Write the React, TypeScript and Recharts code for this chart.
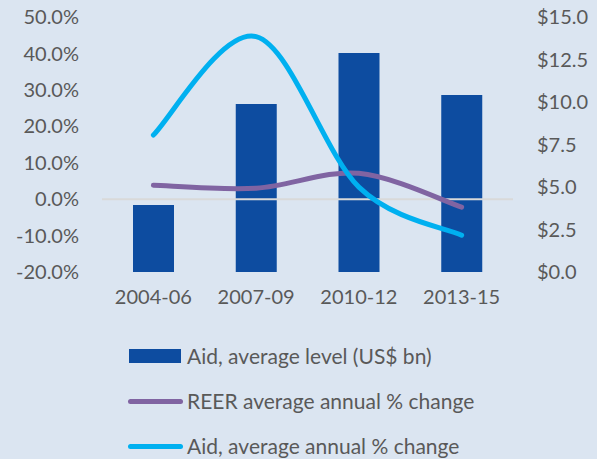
import React from "react";
import {
  ComposedChart,
  Bar,
  Line,
  XAxis,
  YAxis,
  ReferenceLine,
} from "recharts";

const periods = ["2004-06", "2007-09", "2010-12", "2013-15"];
const aidLevel = [3.94, 9.88, 12.88, 10.41]; // US$ bn, right axis
const reerChange = [3.8, 3.0, 7.1, -2.2]; // %, left axis
const aidChange = [17.6, 44.6, 3.3, -9.9]; // %, left axis

const pctTicks = [-20, -10, 0, 10, 20, 30, 40, 50];
const usdTicks = [0, 2.5, 5, 7.5, 10, 12.5, 15];

const BG = "#dbe5f1";
const TEXT = "#595959";
const BAR = "#0d4ca0";
const PURPLE = "#8064a2";
const CYAN = "#00b0f0";
const FONT = "Lato, 'Open Sans', sans-serif";

// Excel-style smoothed line (Catmull-Rom like, tension 1/6)
function excelSmooth(context: any) {
  let pts: number[][] = [];
  return {
    areaStart() {},
    areaEnd() {},
    lineStart() {
      pts = [];
    },
    point(x: number, y: number) {
      pts.push([+x, +y]);
    },
    lineEnd() {
      const n = pts.length;
      if (!n) return;
      context.moveTo(pts[0][0], pts[0][1]);
      for (let i = 0; i < n - 1; i++) {
        const p0 = pts[i - 1] || pts[i];
        const p1 = pts[i];
        const p2 = pts[i + 1];
        const p3 = pts[i + 2] || p2;
        context.bezierCurveTo(
          p1[0] + (p2[0] - p0[0]) / 6,
          p1[1] + (p2[1] - p0[1]) / 6,
          p2[0] - (p3[0] - p1[0]) / 6,
          p2[1] - (p3[1] - p1[1]) / 6,
          p2[0],
          p2[1]
        );
      }
    },
  };
}

const data = periods.map((p, i) => ({
  period: p,
  aid: aidLevel[i],
  reer: reerChange[i],
  aidChg: aidChange[i],
}));

const tickStyle = { fill: TEXT, fontSize: 20, fontFamily: FONT };

const legendItems = [
  { label: "Aid, average level (US$ bn)", color: BAR, kind: "bar", top: 356 },
  { label: "REER average annual % change", color: PURPLE, kind: "line", top: 401 },
  { label: "Aid, average annual % change", color: CYAN, kind: "line", top: 446 },
];

export default function App() {
  return (
    <div
      style={{
        position: "fixed",
        left: 0,
        top: 0,
        width: 597,
        height: 459,
        background: BG,
        fontFamily: FONT,
        overflow: "hidden",
      }}
    >
      <ComposedChart
        width={597}
        height={320}
        data={data}
        margin={{ top: 17, right: 0, bottom: 0, left: 0 }}
        barCategoryGap="60%"
      >
        <XAxis
          dataKey="period"
          axisLine={false}
          tickLine={false}
          tickSize={0}
          tickMargin={18}
          height={48}
          tick={tickStyle}
          interval={0}
        />
        <YAxis
          yAxisId="pct"
          orientation="left"
          domain={[-20, 50]}
          ticks={pctTicks}
          axisLine={false}
          tickLine={false}
          tickSize={0}
          tickMargin={23}
          width={102}
          tick={tickStyle}
          tickFormatter={(v: number) => `${v.toFixed(1)}%`}
          interval={0}
        />
        <YAxis
          yAxisId="usd"
          orientation="right"
          domain={[0, 15]}
          ticks={usdTicks}
          axisLine={false}
          tickLine={false}
          tickSize={0}
          tickMargin={24}
          width={84}
          tick={{ ...tickStyle, textAnchor: "start" }}
          tickFormatter={(v: number) => `$${v.toFixed(1)}`}
          interval={0}
        />
        <Bar
          yAxisId="usd"
          dataKey="aid"
          fill={BAR}
          barSize={41}
          isAnimationActive={false}
        />
        <ReferenceLine yAxisId="pct" y={0} stroke="#d9d9d9" strokeWidth={2} />
        <Line
          yAxisId="pct"
          dataKey="reer"
          type={excelSmooth as any}
          stroke={PURPLE}
          strokeWidth={5}
          strokeLinecap="round"
          dot={false}
          isAnimationActive={false}
        />
        <Line
          yAxisId="pct"
          dataKey="aidChg"
          type={excelSmooth as any}
          stroke={CYAN}
          strokeWidth={5}
          strokeLinecap="round"
          dot={false}
          isAnimationActive={false}
        />
      </ComposedChart>
      {legendItems.map((item) => (
        <div
          key={item.label}
          style={{
            position: "absolute",
            left: 128,
            top: item.top - 14,
            height: 28,
            display: "flex",
            alignItems: "center",
            color: TEXT,
            fontSize: 21,
            lineHeight: "28px",
            whiteSpace: "nowrap",
          }}
        >
          {item.kind === "bar" ? (
            <span
              style={{
                display: "inline-block",
                width: 52,
                height: 14,
                background: item.color,
                marginLeft: 1,
                marginRight: 6,
              }}
            />
          ) : (
            <span
              style={{
                display: "inline-block",
                width: 55,
                height: 5,
                borderRadius: 3,
                background: item.color,
                marginRight: 4,
              }}
            />
          )}
          <span>{item.label}</span>
        </div>
      ))}
    </div>
  );
}
